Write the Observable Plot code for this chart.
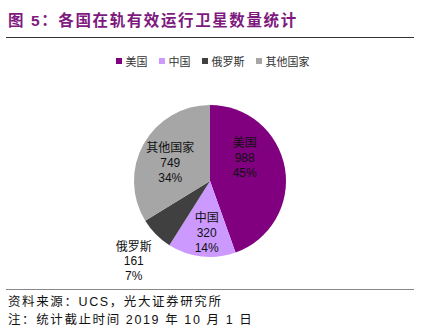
<!DOCTYPE html>
<html><head><meta charset="utf-8">
<script src="https://cdn.jsdelivr.net/npm/d3@7"></script>
<script src="https://cdn.jsdelivr.net/npm/@observablehq/plot@0.6"></script>
<style>
body{margin:0;width:422px;height:330px;position:relative;background:#fff;font-family:"Liberation Sans","Noto Sans CJK SC",sans-serif;overflow:hidden}
#title{position:absolute;left:8px;top:11px;font-size:15.5px;line-height:20px;font-weight:bold;color:#7E1A7E;letter-spacing:1.6px;white-space:nowrap;font-family:"Liberation Sans","Noto Sans CJK SC",sans-serif}
#rule1{position:absolute;left:6px;top:37px;width:408px;height:1px;background:#333}
#legend{position:absolute;left:0;top:53px;width:422px;display:flex;justify-content:center;font-size:11px;color:#333;gap:11px;padding-left:3px;box-sizing:border-box}
#legend span.it{display:flex;align-items:center;gap:4px}
#legend i{display:inline-block;width:6px;height:6px}
#chart{position:absolute;left:0;top:75px}
#rule2{position:absolute;left:6px;top:289px;width:408px;height:1px;background:#888}
.note{position:absolute;left:8px;font-size:12.5px;line-height:15px;color:#111;letter-spacing:1.6px;white-space:nowrap}
</style></head><body>
<div id="title">图 5：各国在轨有效运行卫星数量统计</div>
<div id="rule1"></div>
<div id="legend"></div>
<div id="chart"></div>
<div id="rule2"></div>
<div class="note" style="top:295px">资料来源：UCS，光大证券研究所</div>
<div class="note" style="top:313px">注：统计截止时间 2019 年 10 月 1 日</div>
<script>
const categories = ["美国", "中国", "俄罗斯", "其他国家"];
const values = [988, 320, 161, 749];
const colors = ["#800080", "#CC99FF", "#404040", "#A6A6A6"];
// label anchor positions in unit-circle coordinates (layout)
const labelX = [0.45, -0.05, -1.01, -0.53];
const labelY = [0.32, -0.67, -1.04, 0.25];

const total = d3.sum(values);
const data = categories.map((c, i) => ({
  name: c, value: values[i],
  label: `${c}\n${values[i]}\n${Math.round(values[i] / total * 100)}%`,
  lx: labelX[i], ly: labelY[i]
}));

const legend = document.getElementById("legend");
categories.forEach((c, i) => {
  const s = document.createElement("span"); s.className = "it";
  s.innerHTML = `<i style="background:${colors[i]}"></i>${c}`;
  legend.appendChild(s);
});

const R = 76, cx = 210, cy = 106;
const pie = d3.pie().sort(null).value(d => d.value)(data);

function pieMark(index, scales) {
  const x0 = scales.x(0), y0 = scales.y(0);
  const r = scales.x(1) - scales.x(0);
  const arc = d3.arc().innerRadius(0).outerRadius(r);
  const g = d3.create("svg:g").attr("transform", `translate(${x0},${y0})`);
  g.selectAll("path").data(pie).join("path")
    .attr("d", arc)
    .attr("fill", d => scales.color(d.data.name));
  return g.node();
}

const plot = Plot.plot({
  width: 422, height: 210,
  margin: 0,
  x: {domain: [-1, 1], range: [cx - R, cx + R], axis: null},
  y: {domain: [-1, 1], range: [cy + R, cy - R], axis: null},
  color: {domain: categories, range: colors},
  style: {fontFamily: "'Liberation Sans','Noto Sans CJK SC',sans-serif", background: "transparent"},
  marks: [
    pieMark,
    Plot.text(data, {x: "lx", y: "ly", text: "label", fontSize: 12, lineHeight: 1.23, fill: "#111"})
  ]
});
document.getElementById("chart").appendChild(plot);
</script>
</body></html>
